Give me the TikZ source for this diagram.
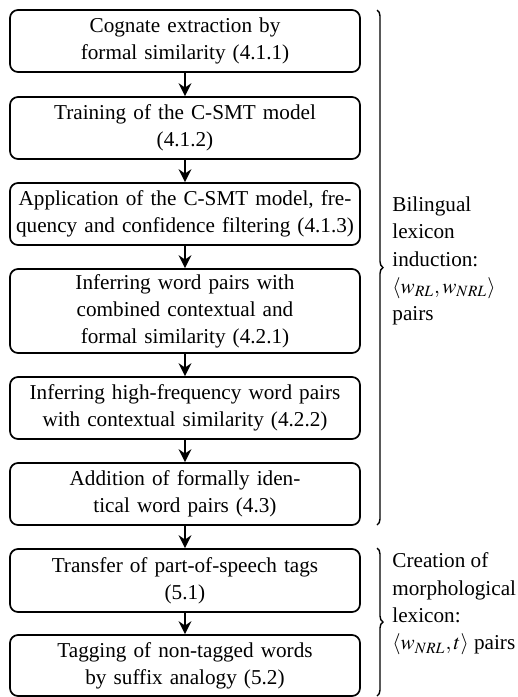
\documentclass[tikz,border=0pt]{standalone}
\usepackage{mathptmx}
\usepackage{fontspec}
\setmainfont{Liberation Serif}
\usetikzlibrary{arrows.meta,decorations.pathreplacing}
\begin{document}
\begin{tikzpicture}[x=0.5pt,y=-0.5pt,
  stepbox/.style={draw, line width=0.85pt, rounded corners=4pt, minimum width=175pt,
    text width=172pt, align=center, inner sep=0pt,
    font=\fontsize{10.6}{13.5}\selectfont},
  arr/.style={-{Stealth[length=6.5pt,width=6.5pt,inset=2.2pt]}, line width=0.9pt},
  grp/.style={decorate, decoration={brace, amplitude=3pt}, line width=0.7pt},
  lbl/.style={anchor=west, align=left, inner sep=0pt, font=\fontsize{10.6}{13.7}\selectfont}]
\useasboundingbox (0,0) rectangle (518,697);
\node[stepbox, minimum height=31pt] (b1) at (185,41) {Cognate extraction by\\formal similarity (4.1.1)};
\node[stepbox, minimum height=31pt] (b2) at (185,128) {Training of the C-SMT model\\(4.1.2)};
\node[stepbox, minimum height=31pt] (b3) at (185,214) {Application of the C-SMT model, fre-\\quency and confidence filtering (4.1.3)};
\node[stepbox, minimum height=42pt] (b4) at (185,311) {Inferring word pairs with\\combined contextual and\\formal similarity (4.2.1)};
\node[stepbox, minimum height=31pt] (b5) at (185,408) {Inferring high-frequency word pairs\\with contextual similarity (4.2.2)};
\node[stepbox, minimum height=31pt] (b6) at (185,494) {Addition of formally iden-\\tical word pairs (4.3)};
\node[stepbox, minimum height=31.5pt] (b7) at (185,580.5) {Transfer of part-of-speech tags\\(5.1)};
\node[stepbox, minimum height=30.5pt] (b8) at (185,665.5) {Tagging of non-tagged words\\by suffix analogy (5.2)};
\draw[arr] (b1) -- (b2);
\draw[arr] (b2) -- (b3);
\draw[arr] (b3) -- (b4);
\draw[arr] (b4) -- (b5);
\draw[arr] (b5) -- (b6);
\draw[arr] (b6) -- (b7);
\draw[arr] (b7) -- (b8);
\coordinate (g1a) at (377,10);
\coordinate (g1b) at (377,525);
\coordinate (g2a) at (377,548);
\coordinate (g2b) at (377,696);
\draw[grp] (g1a) -- (g1b);
\draw[grp] (g2a) -- (g2b);
\node[lbl] (l1) at (392,261) {Bilingual\\lexicon\\induction:\\$\langle w_{RL},w_{NRL}\rangle$\\pairs};
\node[lbl] (l2) at (392,604) {Creation of\\morphological\\lexicon:\\$\langle w_{NRL},t\rangle$ pairs};
\end{tikzpicture}
\end{document}
